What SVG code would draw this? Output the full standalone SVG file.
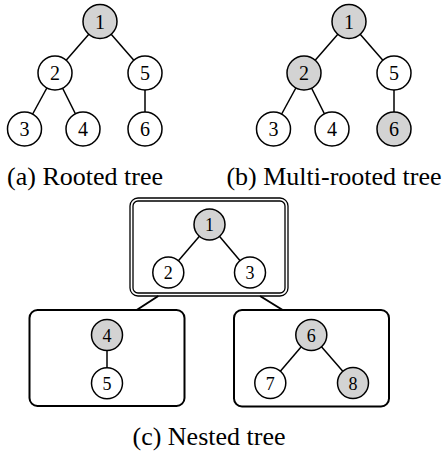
<svg xmlns="http://www.w3.org/2000/svg" width="444" height="456" viewBox="0 0 444 456">
  <style>
    .edge { stroke: #000; stroke-width: 1.5; fill: none; }
    .link { stroke: #000; stroke-width: 2; fill: none; }
    .node circle { stroke: #000; stroke-width: 1.5; fill: #fff; }
    .node.root circle { fill: #d3d3d3; }
    .node text { font-family: "Liberation Serif", "Times New Roman", serif; font-size: 20px; text-anchor: middle; fill: #000; }
    .small text { font-size: 18px; }
    .caption { font-family: "Liberation Serif", "Times New Roman", serif; font-size: 26px; text-anchor: middle; fill: #000; }
    .box { stroke: #000; stroke-width: 2; fill: none; }
    .dbl { stroke: #000; stroke-width: 1.3; fill: none; }
  </style>
  <rect width="444" height="456" fill="#fff"/>

  <!-- tree edges -->
  <g id="connectors">
    <!-- (a) rooted tree -->
    <line class="edge" x1="100" y1="21.5" x2="55" y2="73"/>
    <line class="edge" x1="100" y1="21.5" x2="145" y2="73"/>
    <line class="edge" x1="55" y1="73" x2="24.5" y2="129"/>
    <line class="edge" x1="55" y1="73" x2="83" y2="129"/>
    <line class="edge" x1="145" y1="73" x2="145" y2="129"/>
    <!-- (b) multi-rooted tree -->
    <line class="edge" x1="349" y1="21.5" x2="304" y2="73"/>
    <line class="edge" x1="349" y1="21.5" x2="394" y2="73"/>
    <line class="edge" x1="304" y1="73" x2="273.5" y2="129"/>
    <line class="edge" x1="304" y1="73" x2="332" y2="129"/>
    <line class="edge" x1="394" y1="73" x2="394" y2="129"/>
    <!-- (c) nested tree: inner edges -->
    <line class="edge" x1="209.5" y1="224.5" x2="168.3" y2="272.5"/>
    <line class="edge" x1="209.5" y1="224.5" x2="250" y2="272.5"/>
    <line class="edge" x1="107" y1="335" x2="107" y2="383.3"/>
    <line class="edge" x1="311.3" y1="335" x2="270.3" y2="383"/>
    <line class="edge" x1="311.3" y1="335" x2="353" y2="383"/>
    <!-- (c) nested tree: box-to-box links -->
    <line class="link" x1="158.3" y1="296" x2="136.7" y2="310"/>
    <line class="link" x1="260" y1="296" x2="282.7" y2="310"/>
  </g>

  <!-- (a) rooted tree -->
  <g id="a1" class="node root"><circle cx="100" cy="21.5" r="17"/><text x="100" y="28.5">1</text></g>
  <g id="a2" class="node"><circle cx="55" cy="73" r="17"/><text x="55" y="80">2</text></g>
  <g id="a5" class="node"><circle cx="145" cy="73" r="17"/><text x="145" y="80">5</text></g>
  <g id="a3" class="node"><circle cx="24.5" cy="129" r="17"/><text x="24.5" y="136">3</text></g>
  <g id="a4" class="node"><circle cx="83" cy="129" r="17"/><text x="83" y="136">4</text></g>
  <g id="a6" class="node"><circle cx="145" cy="129" r="17"/><text x="145" y="136">6</text></g>
  <text class="caption" x="85" y="185">(a) Rooted tree</text>

  <!-- (b) multi-rooted tree -->
  <g id="b1" class="node root"><circle cx="349" cy="21.5" r="17"/><text x="349" y="28.5">1</text></g>
  <g id="b2" class="node root"><circle cx="304" cy="73" r="17"/><text x="304" y="80">2</text></g>
  <g id="b5" class="node"><circle cx="394" cy="73" r="17"/><text x="394" y="80">5</text></g>
  <g id="b3" class="node"><circle cx="273.5" cy="129" r="17"/><text x="273.5" y="136">3</text></g>
  <g id="b4" class="node"><circle cx="332" cy="129" r="17"/><text x="332" y="136">4</text></g>
  <g id="b6" class="node root"><circle cx="394" cy="129" r="17"/><text x="394" y="136">6</text></g>
  <text class="caption" x="334" y="185">(b) Multi-rooted tree</text>

  <!-- (c) nested tree -->
  <g id="c-top">
    <rect class="dbl" x="130" y="198" width="158" height="98" rx="8"/>
    <rect class="dbl" x="133" y="201" width="152" height="92" rx="5"/>
  </g>
  <g id="c-left"><rect class="box" x="29.5" y="310" width="155" height="96" rx="8"/></g>
  <g id="c-right"><rect class="box" x="234" y="310" width="155" height="96.5" rx="8"/></g>

  <g id="c1" class="node root small"><circle cx="209.5" cy="224.5" r="15.5"/><text x="209.5" y="231">1</text></g>
  <g id="c2" class="node small"><circle cx="168.3" cy="272.5" r="15.5"/><text x="168.3" y="279">2</text></g>
  <g id="c3" class="node small"><circle cx="250" cy="272.5" r="15.5"/><text x="250" y="279">3</text></g>
  <g id="c4" class="node root small"><circle cx="107" cy="335" r="15.5"/><text x="107" y="341.5">4</text></g>
  <g id="c5" class="node small"><circle cx="107" cy="383.3" r="15.5"/><text x="107" y="389.8">5</text></g>
  <g id="c6" class="node root small"><circle cx="311.3" cy="335" r="15.5"/><text x="311.3" y="341.5">6</text></g>
  <g id="c7" class="node small"><circle cx="270.3" cy="383" r="15.5"/><text x="270.3" y="389.5">7</text></g>
  <g id="c8" class="node root small"><circle cx="353" cy="383" r="15.5"/><text x="353" y="389.5">8</text></g>
  <text class="caption" x="209" y="445">(c) Nested tree</text>
</svg>
